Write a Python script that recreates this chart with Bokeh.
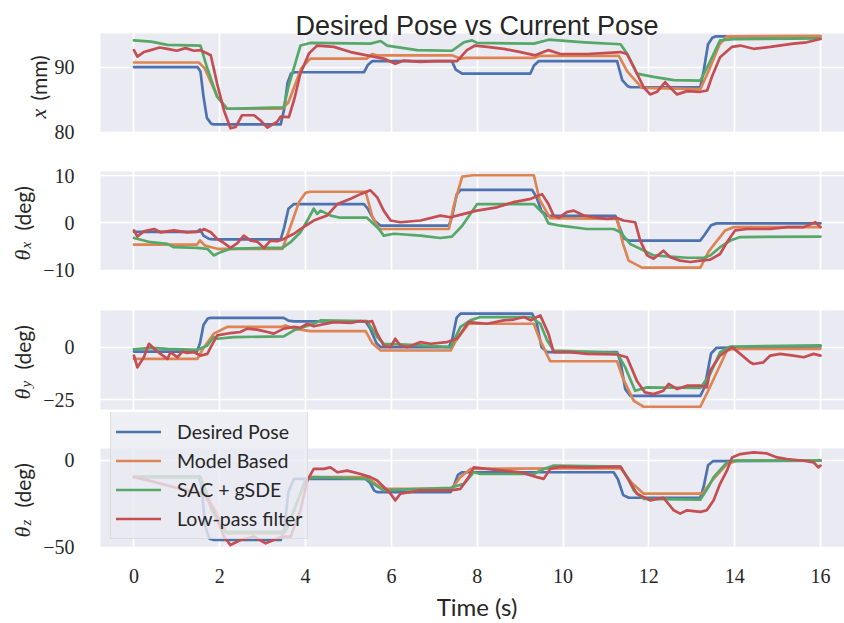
import math
from bokeh.plotting import figure
from bokeh.layouts import column
from bokeh.models import Range1d, FixedTicker, Legend, LegendItem, BoxAnnotation
from bokeh.core.properties import value
from bokeh.embed import file_html
from bokeh.resources import INLINE

# ---------------- data ----------------
SERIES = ["Desired Pose", "Model Based", "SAC + gSDE", "Low-pass filter"]
X_TICKS = [0, 2, 4, 6, 8, 10, 12, 14, 16]

# Panel 1: x (mm)
t_x_des = [0, 1.48, 1.55, 1.62, 1.70, 1.80, 1.86, 3.42, 3.50, 3.58, 3.66, 3.75, 5.36, 5.45, 5.55, 7.41, 7.50, 7.65, 9.24, 9.32, 9.43, 11.26, 11.38, 11.50, 11.57, 13.20, 13.28, 13.38, 13.48, 13.55, 16.0]
x_des = [90.0, 90.0, 89.3, 85.5, 82.2, 81.3, 81.2, 81.2, 83.5, 87.6, 89.0, 89.2, 89.2, 90.3, 90.9, 90.9, 89.6, 89.0, 89.0, 90.2, 90.9, 90.9, 88.0, 87.1, 86.9, 86.9, 89.5, 93.5, 94.5, 94.7, 94.7]
t_x_mb = [0, 1.51, 1.65, 1.94, 2.17, 3.46, 3.60, 3.90, 4.11, 5.43, 5.55, 5.65, 7.41, 7.60, 7.76, 9.32, 9.45, 11.30, 11.50, 11.84, 13.20, 13.40, 13.65, 13.82, 16.0]
x_mb = [90.7, 90.7, 89.8, 85.5, 83.6, 83.6, 84.6, 89.8, 91.3, 91.3, 92.0, 91.8, 91.8, 91.3, 91.4, 91.4, 91.7, 91.7, 89.3, 86.8, 86.6, 89.5, 93.5, 94.7, 94.8]
t_x_sac = [0, 0.40, 0.78, 1.55, 1.70, 1.94, 2.17, 3.49, 3.60, 3.88, 4.11, 5.51, 5.75, 5.90, 6.60, 7.41, 7.69, 7.88, 8.00, 9.32, 9.67, 10.50, 11.34, 11.50, 11.72, 12.11, 12.58, 13.20, 13.40, 13.66, 13.97, 16.0]
x_sac = [94.1, 93.9, 93.4, 93.3, 90.0, 85.4, 83.6, 83.8, 87.0, 93.3, 93.7, 93.6, 94.0, 93.3, 92.6, 92.5, 93.8, 94.1, 93.7, 93.6, 94.2, 93.8, 93.5, 92.0, 89.0, 88.5, 88.0, 87.9, 90.5, 94.1, 94.3, 94.4]
t_x_lp = [0, 0.08, 0.23, 0.39, 0.60, 0.78, 1.00, 1.20, 1.40, 1.55, 1.79, 1.94, 2.10, 2.25, 2.37, 2.52, 2.80, 2.95, 3.11, 3.26, 3.34, 3.42, 3.61, 3.73, 3.88, 4.08, 4.27, 4.66, 5.05, 5.43, 5.82, 6.09, 6.29, 6.68, 7.00, 7.53, 7.76, 7.95, 8.23, 8.62, 9.01, 9.35, 9.66, 9.94, 10.56, 11.34, 11.49, 11.65, 11.88, 12.03, 12.19, 12.38, 12.50, 12.66, 12.89, 13.20, 13.36, 13.47, 13.66, 13.94, 14.13, 14.44, 14.83, 15.37, 15.68, 16.0]
x_lp = [92.6, 91.6, 92.3, 92.6, 93.0, 92.8, 92.5, 92.9, 92.5, 92.6, 91.8, 87.4, 83.3, 80.6, 80.8, 82.6, 82.6, 81.8, 80.7, 81.3, 81.6, 82.4, 82.3, 84.9, 89.0, 92.1, 93.3, 93.1, 92.3, 91.8, 91.3, 90.5, 91.0, 90.8, 90.9, 90.9, 92.6, 93.3, 93.1, 92.8, 92.3, 91.8, 92.6, 92.0, 92.0, 92.3, 92.0, 90.0, 86.9, 85.8, 86.2, 87.7, 86.8, 85.8, 86.3, 86.2, 86.4, 88.5, 91.5, 93.1, 93.3, 92.8, 93.1, 93.6, 93.8, 94.3]

# Panel 2: theta_x (deg)
t_tx_des = [0, 1.47, 1.54, 1.62, 1.75, 1.86, 3.42, 3.50, 3.60, 3.73, 5.36, 5.45, 5.60, 5.75, 7.34, 7.42, 7.52, 7.61, 9.28, 9.38, 9.50, 9.63, 11.22, 11.30, 11.42, 11.53, 13.20, 13.30, 13.45, 13.58, 16.0]
tx_des = [-1.9, -1.9, -1.4, -2.7, -3.4, -3.5, -3.5, -1.0, 3.0, 4.0, 4.0, 3.0, 0.5, -0.6, -0.6, 1.5, 6.0, 7.0, 7.0, 5.5, 2.5, 1.5, 1.5, -0.5, -3.3, -3.75, -3.75, -2.5, -0.5, -0.1, -0.1]
t_tx_mb = [0, 1.47, 1.54, 1.65, 1.94, 3.46, 3.60, 3.85, 4.00, 4.10, 5.40, 5.55, 5.71, 7.34, 7.45, 7.65, 7.90, 9.32, 9.45, 9.70, 11.26, 11.40, 11.53, 11.84, 13.20, 13.40, 13.78, 13.98, 16.0]
tx_mb = [-4.6, -4.6, -3.7, -4.8, -5.5, -5.5, -2.0, 4.5, 6.4, 6.6, 6.6, 1.5, -1.3, -1.3, 3.5, 9.8, 10.1, 10.1, 5.0, 1.0, 0.85, -4.5, -8.0, -9.5, -9.5, -6.0, -1.6, -0.9, -0.9]
t_tx_sac = [0, 0.39, 0.78, 0.93, 1.48, 1.71, 1.86, 2.02, 2.25, 3.11, 3.46, 3.65, 3.88, 4.04, 4.19, 4.27, 4.35, 4.58, 4.81, 5.43, 5.71, 5.82, 6.06, 6.68, 7.14, 7.41, 7.65, 7.84, 8.00, 9.32, 9.55, 9.66, 9.94, 10.56, 11.18, 11.34, 11.57, 11.80, 12.11, 12.89, 13.28, 13.43, 13.66, 13.90, 14.13, 16.0]
tx_sac = [-3.2, -4.1, -4.45, -5.16, -5.3, -5.5, -6.9, -6.2, -5.5, -5.3, -5.3, -4.1, -2.0, 0.5, 3.0, 1.9, 2.6, 1.55, 1.1, 1.1, -1.3, -2.7, -2.3, -2.7, -3.2, -2.9, -0.6, 1.9, 4.0, 4.0, 1.9, -0.1, -0.6, -1.3, -1.3, -2.0, -4.5, -5.5, -6.9, -7.4, -7.4, -6.9, -5.16, -3.75, -3.0, -2.9]
t_tx_lp = [0, 0.08, 0.23, 0.47, 0.62, 0.93, 1.24, 1.55, 1.63, 1.79, 1.94, 2.10, 2.25, 2.41, 2.56, 2.72, 2.87, 3.03, 3.18, 3.34, 3.49, 3.73, 3.88, 4.19, 4.50, 4.74, 5.05, 5.28, 5.51, 5.67, 5.82, 5.98, 6.21, 6.68, 7.14, 7.38, 7.69, 7.99, 8.46, 8.85, 9.25, 9.51, 9.66, 9.78, 9.90, 10.09, 10.25, 10.48, 10.71, 11.02, 11.26, 11.41, 11.68, 11.80, 11.96, 12.11, 12.34, 12.50, 12.73, 12.97, 13.20, 13.43, 13.66, 13.82, 14.01, 14.29, 14.83, 15.22, 15.61, 15.88, 16.0]
tx_lp = [-1.6, -2.9, -1.8, -1.3, -2.0, -1.6, -2.0, -1.8, -1.3, -2.0, -3.4, -4.3, -5.3, -4.3, -2.7, -3.75, -3.96, -5.3, -3.75, -3.9, -3.4, -2.3, -1.3, 0.5, 1.55, 4.0, 5.1, 6.1, 6.9, 5.4, 2.6, 0.5, 0.14, 0.5, 1.55, 1.2, 1.9, 2.6, 3.3, 4.4, 5.1, 6.1, 4.0, 1.55, 1.06, 2.3, 2.6, 1.55, 1.2, 0.85, 1.06, 0.5, 0.14, -3.75, -6.9, -7.6, -5.9, -7.3, -8.0, -8.3, -8.0, -7.8, -6.6, -4.1, -1.6, -1.3, -1.3, -0.9, -0.9, 0.14, -0.9]

# Panel 3: theta_y (deg)
t_ty_des = [0, 1.47, 1.54, 1.62, 1.72, 1.79, 3.49, 3.60, 3.73, 5.40, 5.50, 5.65, 5.75, 7.34, 7.42, 7.52, 7.61, 9.28, 9.38, 9.50, 9.63, 11.26, 11.34, 11.45, 11.57, 13.20, 13.30, 13.45, 13.58, 16.0]
ty_des = [-2.1, -2.1, 2.0, 10.5, 13.6, 13.9, 13.9, 12.6, 12.2, 12.2, 9.0, 2.0, 0.0, 0.0, 4.0, 14.0, 15.9, 15.9, 12.0, 0.0, -2.4, -2.4, -7.0, -20.0, -23.1, -23.1, -19.0, -3.0, -0.3, 0.3]
t_ty_mb = [0, 1.48, 1.60, 1.86, 2.17, 3.42, 3.53, 3.73, 4.11, 5.40, 5.55, 5.75, 7.38, 7.50, 7.80, 9.32, 9.45, 9.70, 11.26, 11.40, 11.65, 11.88, 13.20, 13.40, 13.82, 13.98, 16.0]
ty_mb = [-5.6, -5.6, -1.0, 6.4, 9.6, 9.6, 10.3, 8.8, 7.6, 7.6, 2.0, -1.6, -1.6, 3.0, 11.1, 11.1, 4.0, -6.7, -6.7, -15.0, -25.5, -28.3, -28.3, -20.0, -1.6, -0.8, -0.8]
t_ty_sac = [0, 0.39, 0.78, 1.48, 1.71, 1.86, 1.94, 2.33, 3.49, 3.73, 4.19, 4.35, 5.43, 5.67, 5.82, 6.21, 6.68, 7.38, 7.61, 7.84, 8.07, 9.25, 9.47, 9.63, 9.78, 10.17, 11.26, 11.45, 11.68, 11.96, 13.20, 13.43, 13.66, 13.90, 16.0]
ty_sac = [-1.1, -0.3, -0.8, -1.3, 0.8, 4.8, 4.0, 4.8, 5.1, 8.0, 11.1, 12.7, 12.4, 4.8, 1.6, 1.3, 0.8, 0.0, 9.6, 12.7, 14.3, 14.3, 11.1, 3.2, -1.6, -1.9, -2.7, -9.6, -20.7, -19.1, -19.4, -12.7, -2.4, 0.3, 0.8]
t_ty_lp = [0, 0.08, 0.23, 0.35, 0.47, 0.62, 0.78, 0.85, 1.01, 1.13, 1.24, 1.40, 1.55, 1.71, 1.79, 1.94, 2.25, 2.48, 2.64, 2.87, 3.11, 3.26, 3.49, 3.73, 3.88, 4.04, 4.19, 4.66, 5.05, 5.28, 5.43, 5.55, 5.67, 5.82, 5.98, 6.09, 6.21, 6.37, 6.68, 6.91, 7.30, 7.53, 7.80, 8.23, 8.62, 8.85, 9.09, 9.25, 9.39, 9.47, 9.66, 9.78, 10.17, 10.56, 11.26, 11.49, 11.72, 11.91, 12.11, 12.34, 12.46, 12.66, 12.89, 13.20, 13.35, 13.43, 13.66, 13.94, 14.13, 14.36, 14.44, 14.67, 14.83, 15.06, 15.37, 15.61, 15.84, 16.0]
ty_lp = [-4.0, -9.6, -4.8, 1.6, -0.8, -3.2, -5.6, -2.4, -4.8, -2.1, -2.7, -2.4, -4.0, -3.2, 0.0, 5.6, 6.7, 7.2, 8.8, 8.3, 7.2, 6.4, 8.8, 9.6, 9.2, 11.1, 9.9, 11.9, 11.5, 12.4, 11.9, 12.4, 6.4, 0.8, 0.0, 4.0, 0.8, 0.0, 2.4, 1.6, 2.4, 4.0, 11.9, 11.1, 12.7, 13.1, 14.3, 12.7, 14.3, 15.1, 6.4, -2.4, -2.4, -3.2, -3.5, -4.8, -15.9, -21.5, -22.3, -20.7, -17.5, -19.9, -18.3, -18.3, -19.1, -11.1, -4.0, 0.0, -3.2, -7.2, -8.0, -7.2, -4.0, -3.2, -4.0, -4.8, -3.2, -4.0]

# Panel 4: theta_z (deg)
t_tz_des = [0, 1.51, 1.58, 1.66, 1.76, 1.86, 3.42, 3.50, 3.60, 3.73, 5.40, 5.50, 5.60, 5.67, 7.38, 7.45, 7.55, 7.65, 11.18, 11.28, 11.40, 11.53, 13.20, 13.28, 13.38, 13.50, 16.0]
tz_des = [-9.8, -9.8, -16.0, -38.0, -45.0, -45.8, -45.8, -40.0, -18.0, -10.8, -10.8, -13.0, -17.5, -18.4, -18.4, -15.0, -8.5, -7.0, -7.0, -11.0, -20.0, -21.6, -21.6, -15.0, -3.0, -0.6, -0.4]
t_tz_mb = [0, 1.55, 1.80, 2.17, 3.49, 3.70, 4.00, 4.11, 5.43, 5.65, 5.82, 7.41, 7.60, 7.84, 11.34, 11.60, 11.88, 13.24, 13.50, 13.82, 14.05, 16.0]
tz_mb = [-9.8, -9.8, -25.0, -42.0, -42.0, -30.0, -12.0, -9.8, -9.8, -14.0, -16.5, -16.5, -10.0, -5.1, -4.6, -13.0, -19.3, -19.3, -11.0, -2.3, -0.4, -0.4]
t_tz_sac = [0, 1.55, 1.80, 2.10, 3.53, 3.75, 4.00, 4.19, 5.43, 5.60, 5.82, 6.68, 7.38, 7.69, 7.92, 8.07, 9.32, 9.55, 9.78, 11.34, 11.50, 11.65, 11.88, 13.20, 13.40, 13.51, 13.82, 14.00, 16.0]
tz_sac = [-9.5, -9.5, -28.0, -41.1, -41.1, -28.0, -10.8, -9.8, -10.8, -14.0, -17.4, -16.5, -15.9, -13.6, -7.0, -8.0, -8.0, -5.1, -3.2, -3.8, -10.0, -17.4, -22.2, -22.7, -15.0, -9.8, -1.3, -0.4, -0.4]
t_tz_lp = [0, 0.47, 0.93, 1.24, 1.48, 1.65, 1.86, 2.10, 2.25, 2.48, 2.80, 3.07, 3.34, 3.49, 3.65, 3.88, 4.04, 4.19, 4.43, 4.58, 4.74, 4.97, 5.28, 5.51, 5.67, 5.98, 6.09, 6.21, 6.68, 7.38, 7.61, 7.80, 7.92, 8.23, 8.62, 9.01, 9.39, 9.55, 9.70, 9.94, 10.56, 11.34, 11.49, 11.72, 12.03, 12.34, 12.58, 12.73, 12.89, 13.20, 13.35, 13.51, 13.66, 13.82, 13.94, 14.13, 14.44, 14.75, 14.99, 15.22, 15.61, 15.84, 15.95, 16.0]
tz_lp = [-9.8, -12.5, -15.5, -17.4, -18.4, -20.0, -28.8, -43.9, -48.7, -45.8, -43.9, -47.7, -44.9, -43.9, -43.9, -28.8, -11.7, -5.1, -5.1, -4.2, -7.0, -6.1, -8.0, -9.8, -11.7, -19.3, -23.1, -19.3, -17.4, -17.4, -16.5, -9.8, -4.2, -5.1, -6.1, -7.0, -9.8, -10.8, -5.1, -3.8, -4.2, -3.8, -9.8, -19.3, -23.1, -21.6, -28.8, -30.7, -28.8, -29.7, -28.8, -23.1, -13.6, -6.1, 1.5, 3.4, 4.4, 3.8, 1.5, 0.6, -0.4, -1.3, -4.2, -3.2]

P1_TICKS = [80, 90]
P2_TICKS = [-10, 0, 10]
P3_TICKS = [-25, 0]
P4_TICKS = [-50, 0]

TITLE = "Desired Pose vs Current Pose"
XLABEL = "Time (s)"

# ---------------- style / layout ----------------
BG = "#EAEAF2"
COLORS = ["#4C72B0", "#DD8452", "#55A868", "#C44E52"]
SANS = "Lato"
TITLE_FONT = "Liberation Sans"
SERIF = "Liberation Serif"
TXT = "#262626"
LW = 2.7
V = math.pi / 2

W = 844          # page width
PLOT_L = 100     # left edge of the axes area (px)
XLO, XHI = -0.78, 16.56
SX = (W - PLOT_L) / (XHI - XLO)
x_full = Range1d(XLO - PLOT_L / SX, XHI)


def tick_label(v):
    return ("\u2212" + str(abs(v))) if v < 0 else str(v)


def make_panel(h, plot_top, plot_bottom, ylo, yhi, yticks, show_x):
    """Figure whose frame is its whole canvas; the axes area is a shaded box
    and the axes are pinned to its edges with fixed_location."""
    sy = (plot_bottom - plot_top) / (yhi - ylo)
    yr = Range1d(ylo - (h - plot_bottom) / sy, yhi + plot_top / sy)
    p = figure(width=W, height=h, x_range=x_full, y_range=yr,
               output_backend="svg", toolbar_location=None,
               x_axis_location="below" if show_x else None, y_axis_location="left",
               min_border_left=0, min_border_right=0, min_border_top=0, min_border_bottom=0)
    p.background_fill_color = "white"
    p.border_fill_color = "white"
    p.outline_line_color = None
    p.add_layout(BoxAnnotation(left=XLO, bottom=ylo, top=yhi, fill_color=BG, fill_alpha=1.0,
                               line_color=None, level="image"))
    p.xgrid.ticker = FixedTicker(ticks=X_TICKS)
    p.ygrid.ticker = FixedTicker(ticks=yticks)
    p.xgrid.bounds = (ylo, yhi)
    p.ygrid.bounds = (XLO, XHI)
    for g in list(p.xgrid) + list(p.ygrid):
        g.grid_line_color = "white"
        g.grid_line_width = 1.7
    ax = p.yaxis[0]
    ax.fixed_location = XLO
    ax.ticker = FixedTicker(ticks=yticks)
    ax.major_label_overrides = {v: tick_label(v) for v in yticks}
    ax.axis_line_color = None
    ax.major_tick_line_color = None
    ax.minor_tick_line_color = None
    ax.major_label_text_font = SERIF
    ax.major_label_text_font_size = "20px"
    ax.major_label_text_color = TXT
    ax.major_label_standoff = 20
    if show_x:
        xa = p.xaxis[0]
        xa.fixed_location = ylo
        xa.ticker = FixedTicker(ticks=X_TICKS)
        xa.axis_line_color = None
        xa.major_tick_line_color = None
        xa.minor_tick_line_color = None
        xa.major_label_text_font = SERIF
        xa.major_label_text_font_size = "20px"
        xa.major_label_text_color = TXT
        xa.major_label_standoff = 15
    p.tags = [sy]
    return p


def px_text(p, sx, sy_px, text, font, size, style="normal", angle=0.0, align="left"):
    """Place a text by pixel position (sx from left, sy_px from top of this figure)."""
    sy = p.tags[0]
    p.text(x=[x_full.start + sx / SX], y=[p.y_range.end - sy_px / sy], text=[text],
           angle=angle, text_font=value(font), text_font_size=value(size),
           text_font_style=value(style), text_color=TXT,
           text_align=align, text_baseline="alphabetic")


def add_lines(p, data):
    rs = []
    for (tt, vv), c in zip(data, COLORS):
        rs.append(p.line(tt, vv, line_color=c, line_width=LW, line_join="round", line_cap="round"))
    return rs


def theta_label(p, center, sub):
    px_text(p, 22, center + 39.5, "\u03b8", SERIF, "22px", "italic", V)
    px_text(p, 25.5, center + 27.5, sub, SERIF, "15px", "italic", V)
    px_text(p, 22, center + 9.5, "(deg)", SANS, "21px", "normal", V)


# panel 1 : page rows 0-146, axes area 33-132
p1 = make_panel(146, 33, 132, 79.95, 95.15, P1_TICKS, False)
add_lines(p1, [(t_x_des, x_des), (t_x_mb, x_mb), (t_x_sac, x_sac), (t_x_lp, x_lp)])
px_text(p1, 476.5, 25, TITLE, TITLE_FONT, "27px", align="center")
px_text(p1, 38, 118, "x", SERIF, "22px", "italic", V)
px_text(p1, 38, 100, "(mm)", SANS, "21px", "normal", V)

# panel 2 : page rows 146-284, axes area 171-270
p2 = make_panel(138, 25, 124, -10.1, 10.9, P2_TICKS, False)
add_lines(p2, [(t_tx_des, tx_des), (t_tx_mb, tx_mb), (t_tx_sac, tx_sac), (t_tx_lp, tx_lp)])
theta_label(p2, 74.5, "x")

# panel 3 : page rows 284-412, axes area 310-409
p3 = make_panel(128, 26, 125, -29.6, 17.4, P3_TICKS, False)
add_lines(p3, [(t_ty_des, ty_des), (t_ty_mb, ty_mb), (t_ty_sac, ty_sac), (t_ty_lp, ty_lp)])
theta_label(p3, 75.5, "y")

# panel 4 : page rows 412-623, axes area 448-547
p4 = make_panel(211, 36, 135, -50.1, 6.6, P4_TICKS, True)
rs = add_lines(p4, [(t_tz_des, tz_des), (t_tz_mb, tz_mb), (t_tz_sac, tz_sac), (t_tz_lp, tz_lp)])
theta_label(p4, 85.5, "z")
px_text(p4, 476.5, 194, XLABEL, SANS, "24px", align="center")

legend = Legend(items=[LegendItem(label=s, renderers=[r]) for s, r in zip(SERIES, rs)],
                location=(110, 84))
legend.label_text_font = SANS
legend.label_text_font_size = "19.5px"
legend.label_text_color = TXT
legend.glyph_width = 45
legend.glyph_height = 29
legend.label_height = 29
legend.spacing = 0
legend.padding = 5
legend.margin = 0
legend.label_standoff = 16
legend.background_fill_color = BG
legend.background_fill_alpha = 0.8
legend.border_line_color = "#cccccc"
legend.border_line_width = 1.3
p4.add_layout(legend)

layout = column(p1, p2, p3, p4, spacing=0)
open("out.html", "w").write(file_html(layout, INLINE))
